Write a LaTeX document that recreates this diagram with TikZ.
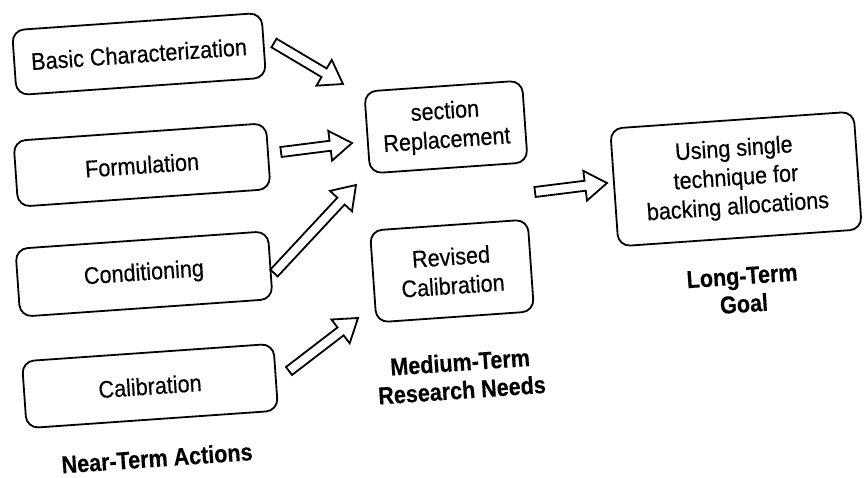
\documentclass[tikz,border=0pt]{standalone}
\usepackage{fontspec}
\setmainfont{Liberation Sans}[FakeStretch=0.9, FakeBold=0.4,
  BoldFeatures={FakeStretch=0.88, FakeBold=0.3}]
\usetikzlibrary{calc}

% Hollow block arrow from #1 to #2 (tip at #2)
\newcommand\blockarrow[2]{%
  \path ($(#2)!22pt!(#1)$) coordinate (ba-base);
  \draw[barrow]
    ($(#1)!5pt!-90:(#2)$) -- ($(ba-base)!5pt!-90:(#2)$) --
    ($(ba-base)!15pt!-90:(#2)$) -- (#2) --
    ($(ba-base)!15pt!90:(#2)$) -- ($(ba-base)!5pt!90:(#2)$) --
    ($(#1)!5pt!90:(#2)$) -- cycle;}

\tikzset{
  box/.style={draw, line width=1.8pt, rounded corners=12pt, align=center,
    rotate=4, inner sep=0pt, font=\fontsize{24}{29}\selectfont},
  lbl/.style={align=center, rotate=4,
    font=\fontsize{24.5}{28}\selectfont\bfseries},
  barrow/.style={draw, line width=1.8pt, fill=white, line join=miter},
}

\begin{document}
\begin{tikzpicture}[x=1pt, y=-1pt]
  \useasboundingbox (0,0) rectangle (864,477);

  % near-term actions
  \node[box, minimum width=250pt, minimum height=65pt] (basic) at (139,54) {Basic Characterization};
  \node[box, minimum width=253pt, minimum height=66pt] (form)  at (142,165) {Formulation};
  \node[box, minimum width=253pt, minimum height=68pt] (cond)  at (144,274) {Conditioning};
  \node[box, minimum width=252pt, minimum height=67pt] (calib) at (150,386) {Calibration};
  \node[lbl] (near) at (157,458) {Near-Term Actions};

  % medium-term research needs
  \node[box, minimum width=158pt, minimum height=82pt] (sect) at (446,127) {section\\Replacement};
  \node[box, minimum width=158pt, minimum height=92pt] (rev)  at (452,271) {Revised\\Calibration};
  \node[lbl] (medium) at (461,376) {Medium-Term\\Research Needs};

  % long-term goal
  \node[box, minimum width=244pt, minimum height=118pt] (goal) at (736,179) {Using single\\technique for\\backing allocations};
  \node[lbl] (long) at (743,290) {Long-Term\\Goal};

  % arrow end points
  \coordinate (a1s) at (274,43);  \coordinate (a1e) at (343,84);
  \coordinate (a2s) at (281,152); \coordinate (a2e) at (352,143);
  \coordinate (a3s) at (274,273); \coordinate (a3e) at (356,185);
  \coordinate (a4s) at (289,371); \coordinate (a4e) at (358,318);
  \coordinate (a5s) at (535,192); \coordinate (a5e) at (607,183);

  \blockarrow{a1s}{a1e}
  \blockarrow{a2s}{a2e}
  \blockarrow{a3s}{a3e}
  \blockarrow{a4s}{a4e}
  \blockarrow{a5s}{a5e}
\end{tikzpicture}
\end{document}
